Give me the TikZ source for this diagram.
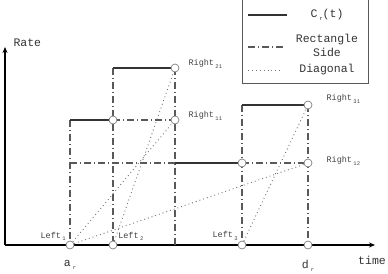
\documentclass[tikz,border=0pt]{standalone}
\usepackage{fontspec}
\setmainfont{Liberation Mono}
\usetikzlibrary{arrows.meta,positioning}
\newcommand{\lsub}[1]{\,\raisebox{-0.6ex}{\fontsize{5.5}{5.5}\selectfont #1}}

\begin{document}
\begin{tikzpicture}[
  x=1pt, y=1pt, font=\fontsize{11.5}{14}\selectfont, >={Stealth[length=6pt,width=5pt]},
  axis/.style={line width=1.3pt, ->}, cr/.style={line width=1.4pt, black!80},
  side/.style={line width=1.1pt, black!65, dash pattern=on 7pt off 3pt on 1pt off 3pt},
  diag/.style={line width=0.9pt, black!55, dash pattern=on 0.9pt off 3pt},
  pt/.style={draw=black!50, fill=white, circle, inner sep=0pt, minimum size=8pt, line width=0.7pt},
  tag/.style={font=\fontsize{8.5}{10}\selectfont, inner sep=1pt, text=black!75}]
\useasboundingbox (-5,-28) rectangle (383,245);
% axes
\coordinate (O) at (0,0); \coordinate (tend) at (370,0); \coordinate (vend) at (0,198);
\draw[axis] (O) -- (tend); \draw[axis] (O) -- (vend);
\node[right=5pt of vend, yshift=4pt, text=black!80] (rate) {Rate};
\node[below=8pt of tend, xshift=-3pt, text=black!80] (time) {time};
% corners of C_r(t)
\coordinate (P1) at (65,125); \coordinate (P2) at (108,177); \coordinate (P3) at (237,140);
\coordinate (P4) at (65,82); \coordinate (Q) at (170,82); \coordinate (Qb) at (170,0);
% sides
\draw[side] (Qb) -- (Q); \draw[side] (P4) -- (Q);
\draw[side] (P1) -- (65,4); \draw[side] (P2) -- (108,4);
\draw[side] (P3) -- (237,4); \draw[side] (303,140) -- (303,4);
\draw[side] (170,177) -- (Q); \draw[side] (108,125) -- (170,125); \draw[side] (237,82) -- (303,82);
% rate
\draw[cr] (P1) -- (108,125); \draw[cr] (P2) -- (170,177);
\draw[cr] (Q) -- (237,82); \draw[cr] (P3) -- (303,140);
% points
\node[pt] (L1) at (65,0) {}; \node[pt] (L2) at (108,0) {};
\node[pt] (L3) at (237,0) {}; \node[pt] (D) at (303,0) {};
\node[pt] (c2) at (108,125) {}; \node[pt] (c3) at (237,82) {};
\node[pt] (R11) at (170,125) {}; \node[pt] (R21) at (170,177) {};
\node[pt] (R12) at (303,82) {}; \node[pt] (R31) at (303,140) {};
% diagonals
\draw[diag] (L1) -- (R11); \draw[diag] (L1) -- (R12);
\draw[diag] (L2) -- (R21); \draw[diag] (L3) -- (R31);
% labels
\node[tag, above left=0pt and 0pt of L1] (tl1) {Left\lsub{1}};
\node[tag, above right=0pt and 1pt of L2] (tl2) {Left\lsub{2}};
\node[tag, above left=0pt and 0pt of L3] (tl3) {Left\lsub{3}};
\node[tag, right=8pt of R21, yshift=4pt] (tr21) {Right\lsub{21}};
\node[tag, right=8pt of R11, yshift=4pt] (tr11) {Right\lsub{11}};
\node[tag, right=13pt of R31, yshift=6pt] (tr31) {Right\lsub{31}};
\node[tag, right=13pt of R12, yshift=2pt] (tr12) {Right\lsub{12}};
\node[below=7pt of L1, text=black!80] (ar) {a\lsub{r}};
\node[below=7pt of D, text=black!80] (dr) {d\lsub{r}};
% legend
\node[draw=black!65, line width=1pt, minimum width=126pt, minimum height=86pt] (key) at (300,204) {};
\coordinate (ka) at (243,230); \coordinate (kb) at (243,198); \coordinate (kc) at (243,175);
\draw[cr] (ka) -- ++(39,0); \draw[side] (kb) -- ++(36,0); \draw[diag] (kc) -- ++(34,0);
\node[text=black!80] (kta) at (322,230) {C\lsub{r}(t)};
\node[align=center, text=black!80] (ktb) at (322,200) {Rectangle\\Side};
\node[text=black!80] (ktc) at (322,175) {Diagonal};
\end{tikzpicture}
\end{document}
